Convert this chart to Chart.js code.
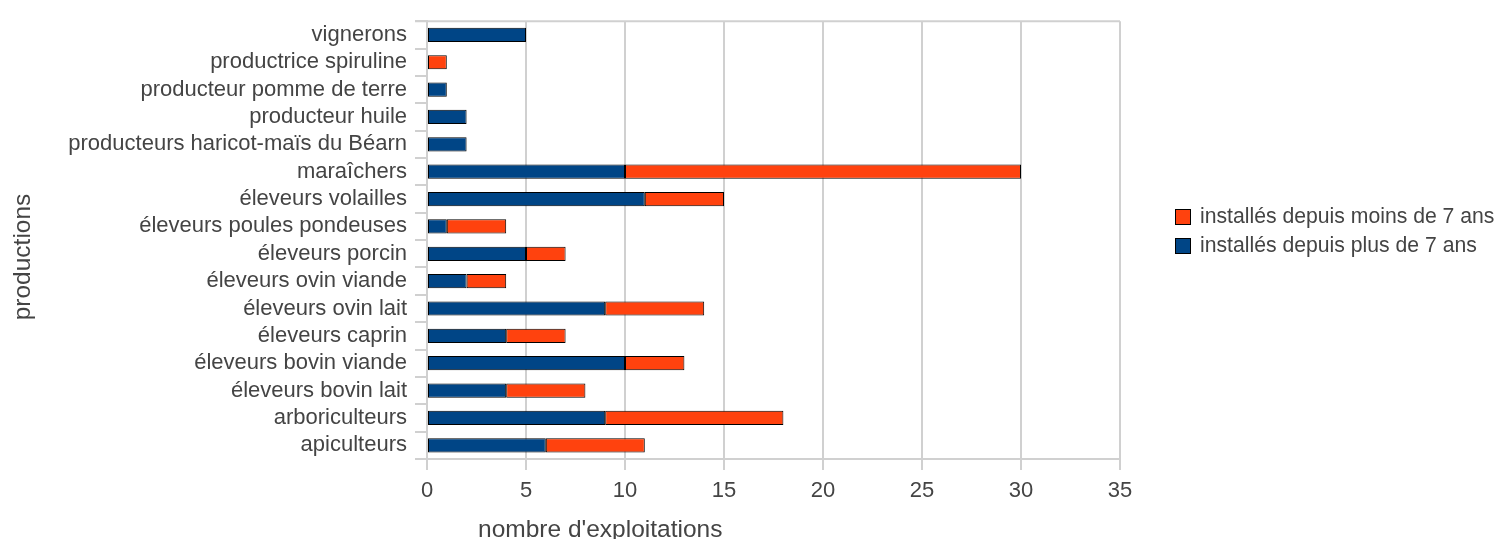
<!DOCTYPE html>
<html>
<head>
<meta charset="utf-8">
<script src="https://cdn.jsdelivr.net/npm/chart.js@4/dist/chart.umd.min.js"></script>
<style>
html,body{margin:0;padding:0;background:#fff;overflow:hidden;}
#wrap{width:1503px;height:539px;}
</style>
</head>
<body>
<div id="wrap"><canvas id="c" width="1503" height="539"></canvas></div>
<script>
const categories = [
  "vignerons",
  "productrice spiruline",
  "producteur pomme de terre",
  "producteur huile",
  "producteurs haricot-maïs du Béarn",
  "maraîchers",
  "éleveurs volailles",
  "éleveurs poules pondeuses",
  "éleveurs porcin",
  "éleveurs ovin viande",
  "éleveurs ovin lait",
  "éleveurs caprin",
  "éleveurs bovin viande",
  "éleveurs bovin lait",
  "arboriculteurs",
  "apiculteurs"
];
const plusDe7Ans  = [5, 0, 1, 2, 2, 10, 11, 1, 5, 2, 9, 4, 10, 4, 9, 6];
const moinsDe7Ans = [0, 1, 0, 0, 0, 20, 4, 3, 2, 2, 5, 3, 3, 4, 9, 5];
const seriesNames = ["installés depuis plus de 7 ans", "installés depuis moins de 7 ans"];
const xTicks = [0, 5, 10, 15, 20, 25, 30, 35];
const xTitle = "nombre d'exploitations";
const yTitle = "productions";

const FONT = '"Liberation Sans", Arial, sans-serif';
const FS = 22;
const FL = 21.2;
const FT = 24.5;
const TXT = '#444444';
const GRID = '#d0d0d0';
const BLUE = '#004586';
const ORANGE = '#ff420e';

const extras = {
  id: 'extras',
  afterDraw(chart) {
    const ctx = chart.ctx;
    const a = chart.chartArea;
    ctx.save();
    // top frame line
    ctx.strokeStyle = GRID;
    ctx.lineWidth = 2;
    ctx.beginPath();
    ctx.moveTo(a.left - 12, a.top);
    ctx.lineTo(a.right, a.top);
    ctx.stroke();
    // axis titles
    ctx.fillStyle = TXT;
    ctx.font = FT + 'px ' + FONT;
    ctx.textBaseline = 'alphabetic';
    ctx.textAlign = 'left';
    ctx.fillText(xTitle, 478, 537);
    ctx.translate(30, 257);
    ctx.rotate(-Math.PI / 2);
    ctx.textAlign = 'center';
    ctx.fillText(yTitle, 0, 0);
    ctx.restore();
    // legend (orange first)
    ctx.save();
    const items = [
      {name: seriesNames[1], color: ORANGE, y: 209},
      {name: seriesNames[0], color: BLUE, y: 238}
    ];
    ctx.font = FL + 'px ' + FONT;
    ctx.textBaseline = 'middle';
    ctx.textAlign = 'left';
    items.forEach(it => {
      ctx.fillStyle = it.color;
      ctx.fillRect(1175, it.y, 16, 16);
      ctx.strokeStyle = '#000';
      ctx.lineWidth = 1;
      ctx.strokeRect(1175.5, it.y + 0.5, 15, 15);
      ctx.fillStyle = TXT;
      ctx.fillText(it.name, 1200, it.y + 8);
    });
    ctx.restore();
  }
};

new Chart(document.getElementById('c'), {
  type: 'bar',
  data: {
    labels: categories,
    datasets: [
      {
        label: seriesNames[0],
        data: plusDe7Ans.map(v => v === 0 ? null : v),
        backgroundColor: BLUE,
        borderColor: '#000',
        borderWidth: 1,
        borderSkipped: false,
        inflateAmount: 0,
        barPercentage: 0.52,
        categoryPercentage: 1
      },
      {
        label: seriesNames[1],
        data: moinsDe7Ans.map(v => v === 0 ? null : v),
        backgroundColor: ORANGE,
        borderColor: '#000',
        borderWidth: 1,
        borderSkipped: false,
        inflateAmount: 0,
        barPercentage: 0.52,
        categoryPercentage: 1
      }
    ]
  },
  options: {
    indexAxis: 'y',
    responsive: false,
    animation: false,
    devicePixelRatio: 1,
    layout: { padding: { left: 0, top: 12, right: 383, bottom: 0 } },
    plugins: { legend: { display: false }, tooltip: { enabled: false } },
    scales: {
      x: {
        stacked: true,
        min: 0,
        max: 35,
        afterBuildTicks(scale) { scale.ticks = xTicks.map(v => ({ value: v })); },
        afterFit(scale) { scale.height = 80; },
        ticks: { color: TXT, font: { family: FONT, size: FS }, padding: 8 },
        grid: { color: GRID, lineWidth: 2, tickLength: 11, tickColor: GRID },
        border: { color: GRID, width: 2 }
      },
      y: {
        stacked: true,
        afterFit(scale) { scale.width = 427; },
        ticks: { color: TXT, font: { family: FONT, size: FS }, padding: 8, autoSkip: false },
        grid: { drawOnChartArea: false, offset: true, color: GRID, lineWidth: 2, tickLength: 12, tickColor: GRID },
        border: { color: GRID, width: 2 }
      }
    }
  },
  plugins: [extras]
});
</script>
</body>
</html>
